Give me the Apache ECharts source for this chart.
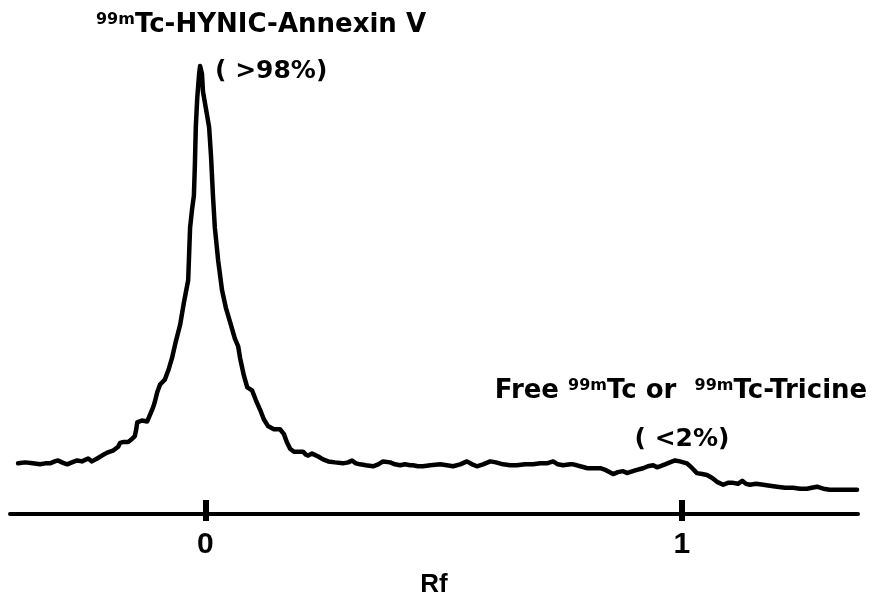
<!DOCTYPE html>
<html>
<head>
<meta charset="utf-8">
<script src="https://cdn.jsdelivr.net/npm/echarts@6/dist/echarts.min.js"></script>
<style>
  html, body { margin: 0; padding: 0; background: #ffffff; }
  #chart { width: 885px; height: 603px; }
</style>
</head>
<body>
<div id="chart"></div>
<script>
// Rf positions of the traced radio-TLC profile
var rf = [
  -0.393,-0.378,-0.362,-0.347,-0.336,-0.326,-0.316,-0.309,-0.301,-0.290,
  -0.280,-0.269,-0.259,-0.246,-0.238,-0.227,-0.217,-0.206,-0.194,-0.183,
  -0.179,-0.171,-0.162,-0.154,-0.148,-0.145,-0.143,-0.133,-0.122,-0.116,
  -0.110,-0.106,-0.101,-0.095,-0.085,-0.078,-0.070,-0.062,-0.053,-0.045,
  -0.036,-0.034,-0.032,-0.028,-0.024,-0.022,-0.020,-0.017,-0.013,-0.011,
  -0.007,-0.005,0.001,0.008,0.012,0.016,0.020,0.027,0.035,0.043,
  0.052,0.062,0.069,0.073,0.081,0.088,0.098,0.106,0.115,0.123,
  0.132,0.144,0.157,0.165,0.171,0.178,0.186,0.199,0.205,0.211,
  0.216,0.224,0.237,0.247,0.258,0.272,0.289,0.300,0.308,0.316,
  0.325,0.337,0.352,0.363,0.373,0.388,0.398,0.409,0.419,0.430,
  0.436,0.446,0.457,0.472,0.493,0.507,0.520,0.535,0.549,0.560,
  0.570,0.583,0.598,0.610,0.625,0.640,0.654,0.671,0.688,0.703,
  0.717,0.730,0.740,0.751,0.766,0.772,0.780,0.787,0.795,0.801,
  0.814,0.829,0.841,0.856,0.866,0.877,0.885,0.891,0.904,0.919,
  0.929,0.940,0.948,0.954,0.965,0.975,0.986,0.996,1.011,1.022,
  1.032,1.043,1.053,1.064,1.074,1.087,1.097,1.108,1.118,1.127,
  1.135,1.143,1.156,1.171,1.185,1.200,1.217,1.234,1.248,1.263,
  1.273,1.284,1.297,1.311,1.332,1.353,1.368
];
// Radioactivity counts (arbitrary units)
var counts = [
  52,53,52,51,52,52,54,55,53,51,
  53,55,54,57,54,57,60,63,65,69,
  73,74,74,77,80,87,94,96,95,102,
  109,115,125,133,138,147,160,177,194,217,
  240,267,294,312,327,357,397,427,452,460,
  452,434,417,397,367,327,294,260,230,212,
  197,180,172,160,142,130,127,117,107,97,
  90,87,87,82,74,67,64,64,64,61,
  60,62,59,56,54,53,52,53,55,52,
  51,50,49,51,54,53,51,50,51,50,
  50,49,49,50,51,50,49,51,54,51,
  49,51,54,53,51,50,50,51,51,52,
  52,54,51,50,51,51,50,49,48,47,
  47,47,45,41,43,44,42,43,45,47,
  49,50,48,49,51,53,55,54,52,47,
  42,41,40,37,33,30,32,32,31,34,
  31,30,31,30,29,28,27,27,26,26,
  27,28,26,25,25,25,25
];
var tickValues = [0, 1];
var xLabels = ['0', '1'];
var axisName = 'Rf';

var seriesData = rf.map(function (x, i) { return [x, counts[i]]; });

var FONT = 'DejaVu Sans';
var LFONT = 'Liberation Sans';

var chart = echarts.init(document.getElementById('chart'), null, { renderer: 'canvas' });
chart.setOption({
  backgroundColor: '#ffffff',
  animation: false,
  grid: { left: 10, right: 27, top: 27, bottom: 76, containLabel: false },
  xAxis: [
    {
      type: 'value', min: -0.41, max: 1.37,
      axisLine: { show: true, lineStyle: { color: '#000', width: 4 } },
      axisTick: { show: true, inside: true, length: 14, customValues: tickValues,
        lineStyle: { color: '#000', width: 6 } },
      axisLabel: { show: true, customValues: tickValues, margin: 16,
        formatter: function (v) { var i = tickValues.indexOf(v); return i >= 0 ? xLabels[i] : ''; },
        color: '#000', fontFamily: LFONT, fontWeight: 'bold', fontSize: 30 },
      splitLine: { show: false },
      name: axisName, nameLocation: 'middle', nameGap: 58,
      nameTextStyle: { color: '#000', fontFamily: LFONT, fontWeight: 'bold', fontSize: 26 }
    },
    {
      type: 'value', min: -0.41, max: 1.37, position: 'bottom',
      axisLine: { show: false },
      axisTick: { show: true, inside: false, length: 7, customValues: tickValues,
        lineStyle: { color: '#000', width: 6 } },
      axisLabel: { show: false },
      splitLine: { show: false }
    }
  ],
  yAxis: { type: 'value', min: 0, max: 500, show: false, splitLine: { show: false } },
  series: [{
    type: 'line', xAxisIndex: 0, data: seriesData, showSymbol: false, smooth: false,
    lineStyle: { color: '#000', width: 4.5, join: 'round', cap: 'round' },
    silent: true
  }],
  graphic: [
    { type: 'text', x: 261, y: 25, style: {
        text: '{sup|99m}{main|Tc-HYNIC-Annexin V}',
        align: 'center', verticalAlign: 'middle',
        rich: {
          sup: { fontFamily: FONT, fontWeight: 'bold', fontSize: 16, fill: '#000', verticalAlign: 'top' },
          main: { fontFamily: FONT, fontWeight: 'bold', fontSize: 26, fill: '#000' }
        } } },
    { type: 'text', x: 215, y: 71, style: {
        text: '( >98%)', align: 'left', verticalAlign: 'middle',
        font: 'bold 25px "DejaVu Sans"', fill: '#000' } },
    { type: 'text', x: 681, y: 391, style: {
        text: '{main|Free }{sup|99m}{main|Tc or  }{sup|99m}{main|Tc-Tricine}',
        align: 'center', verticalAlign: 'middle',
        rich: {
          sup: { fontFamily: FONT, fontWeight: 'bold', fontSize: 16, fill: '#000', verticalAlign: 'top' },
          main: { fontFamily: FONT, fontWeight: 'bold', fontSize: 26, fill: '#000' }
        } } },
    { type: 'text', x: 682, y: 439, style: {
        text: '( <2%)', align: 'center', verticalAlign: 'middle',
        font: 'bold 25px "DejaVu Sans"', fill: '#000' } }
  ]
});
</script>
</body>
</html>
